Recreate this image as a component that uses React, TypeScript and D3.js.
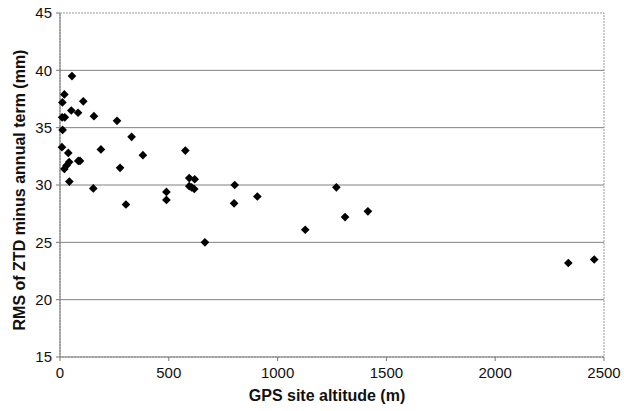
import React from 'react';
import * as d3 from 'd3';

// GPS site altitude (m)
const altitude = [
  55, 20, 11, 107, 52, 83, 10, 22, 156, 262, 12, 329, 9, 188, 576, 38, 381,
  84, 92, 20, 30, 42, 276, 43, 153, 303, 489, 489, 594, 619, 594, 605, 617,
  666, 803, 800, 907, 1127, 1270, 1310, 1415, 2336, 2455,
];
// RMS of ZTD minus annual term (mm)
const rms = [
  39.5, 37.9, 37.2, 37.3, 36.5, 36.3, 35.9, 35.9, 36.0, 35.6, 34.8, 34.2, 33.3,
  33.1, 33.0, 32.8, 32.6, 32.1, 32.1, 31.4, 31.7, 32.0, 31.5, 30.3, 29.7, 28.3,
  29.4, 28.7, 30.6, 30.5, 29.9, 29.8, 29.65, 25.0, 30.0, 28.4, 29.0, 26.1, 29.8,
  27.2, 27.7, 23.2, 23.5,
];
const xTicks = [0, 500, 1000, 1500, 2000, 2500];
const yTicks = [15, 20, 25, 30, 35, 40, 45];

const W = 624;
const H = 411;
const left = 60;
const right = 604;
const top = 13;
const bottom = 357;

export default function App() {
  const x = d3.scaleLinear().domain([0, 2500]).range([left, right]);
  const y = d3.scaleLinear().domain([15, 45]).range([bottom, top]);
  const diamond = d3.symbol().type(d3.symbolDiamond2).size(48)();
  const font = 'Arial, "Liberation Sans", sans-serif';

  return (
    <svg width={W} height={H} style={{ display: 'block', position: 'absolute', left: 0, top: 0 }}>
      <rect width={W} height={H} fill="#fff" />
      {/* gridlines */}
      {yTicks.slice(1, -1).map((t) => (
        <line key={t} x1={left} x2={right} y1={y(t)} y2={y(t)} stroke="#808080" strokeWidth={1} />
      ))}
      {/* plot border */}
      <rect x={left} y={top} width={right - left} height={bottom - top} fill="none" stroke="#9a9a9a" strokeWidth={1} strokeDasharray="2 1" />
      {/* axes */}
      <line x1={left} x2={left} y1={top} y2={bottom} stroke="#777" />
      <line x1={left} x2={right} y1={bottom} y2={bottom} stroke="#777" />
      {yTicks.map((t) => (
        <g key={t}>
          <line x1={left - 4} x2={left} y1={y(t)} y2={y(t)} stroke="#777" />
          <text x={left - 8} y={y(t)} dy="0.35em" textAnchor="end" fontFamily={font} fontSize={15} fill="#111">
            {t}
          </text>
        </g>
      ))}
      {xTicks.map((t) => (
        <g key={t}>
          <line x1={x(t)} x2={x(t)} y1={bottom} y2={bottom + 4} stroke="#777" />
          <text x={x(t)} y={bottom + 21} textAnchor="middle" fontFamily={font} fontSize={15} fill="#111">
            {t}
          </text>
        </g>
      ))}
      {/* points */}
      {altitude.map((a, i) => (
        <path key={i} d={diamond} transform={`translate(${x(a)},${y(rms[i])})`} fill="#000" />
      ))}
      {/* titles */}
      <text x={(left + right) / 2 - 5} y={401} textAnchor="middle" fontFamily={font} fontSize={16} fontWeight="bold" fill="#111">
        GPS site altitude (m)
      </text>
      <text transform={`translate(25,${(top + bottom) / 2 + 5}) rotate(-90)`} textAnchor="middle" fontFamily={font} fontSize={16} fontWeight="bold" fill="#111">
        RMS of ZTD minus annual term (mm)
      </text>
    </svg>
  );
}
